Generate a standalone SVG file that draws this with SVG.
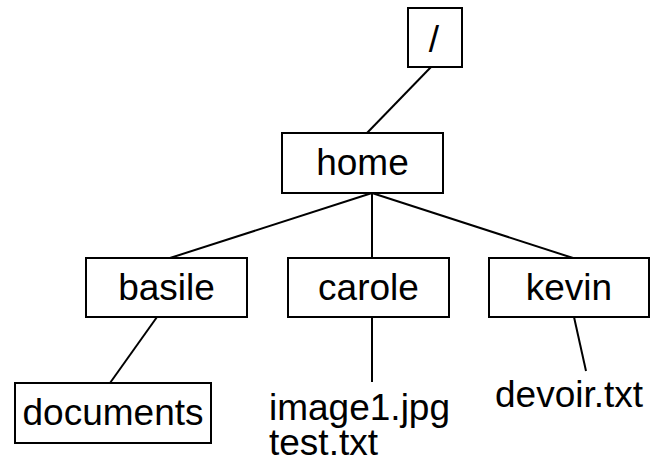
<svg xmlns="http://www.w3.org/2000/svg" width="651" height="464" viewBox="0 0 651 464">
  <style>
    .box { fill: #ffffff; stroke: #000000; stroke-width: 2; }
    .edge { fill: none; stroke: #000000; stroke-width: 2; }
    .lbl { font-family: "Liberation Sans", Arial, sans-serif; font-size: 37px; fill: #000000; text-anchor: middle; }
    .file { font-family: "Liberation Sans", Arial, sans-serif; font-size: 37px; fill: #000000; }
  </style>
  <rect width="651" height="464" fill="#ffffff"/>

  <!-- tree edges -->
  <g id="connectors">
    <line class="edge" x1="431" y1="67" x2="367" y2="133"/>
    <line class="edge" x1="372" y1="193" x2="170" y2="258"/>
    <line class="edge" x1="372" y1="193" x2="372" y2="258"/>
    <line class="edge" x1="372" y1="193" x2="573" y2="258"/>
    <line class="edge" x1="157" y1="317" x2="110" y2="383"/>
    <line class="edge" x1="372" y1="317" x2="372" y2="382"/>
    <line class="edge" x1="574" y1="317" x2="586" y2="371"/>
  </g>

  <g id="root">
    <rect class="box" x="408" y="8" width="54" height="59"/>
    <text class="lbl" x="434" y="52">/</text>
  </g>

  <g id="home">
    <rect class="box" x="282" y="133" width="161" height="60"/>
    <text class="lbl" x="362.5" y="175">home</text>
  </g>

  <g id="basile">
    <rect class="box" x="86" y="258" width="161" height="59"/>
    <text class="lbl" x="166.5" y="300">basile</text>
  </g>

  <g id="carole">
    <rect class="box" x="288" y="258" width="161" height="59"/>
    <text class="lbl" x="368.5" y="300">carole</text>
  </g>

  <g id="kevin">
    <rect class="box" x="489" y="258" width="160" height="59"/>
    <text class="lbl" x="569" y="300">kevin</text>
  </g>

  <g id="documents">
    <rect class="box" x="15" y="383" width="196" height="60"/>
    <text class="lbl" x="113" y="425">documents</text>
  </g>

  <!-- file list under carole, two lines in one text block -->
  <g id="carole-files">
    <text class="file" x="269" y="420"><tspan x="269" y="420">image1.jpg</tspan><tspan x="269" y="455">test.txt</tspan></text>
  </g>

  <g id="kevin-files">
    <text class="file" x="495" y="407">devoir.txt</text>
  </g>
</svg>
